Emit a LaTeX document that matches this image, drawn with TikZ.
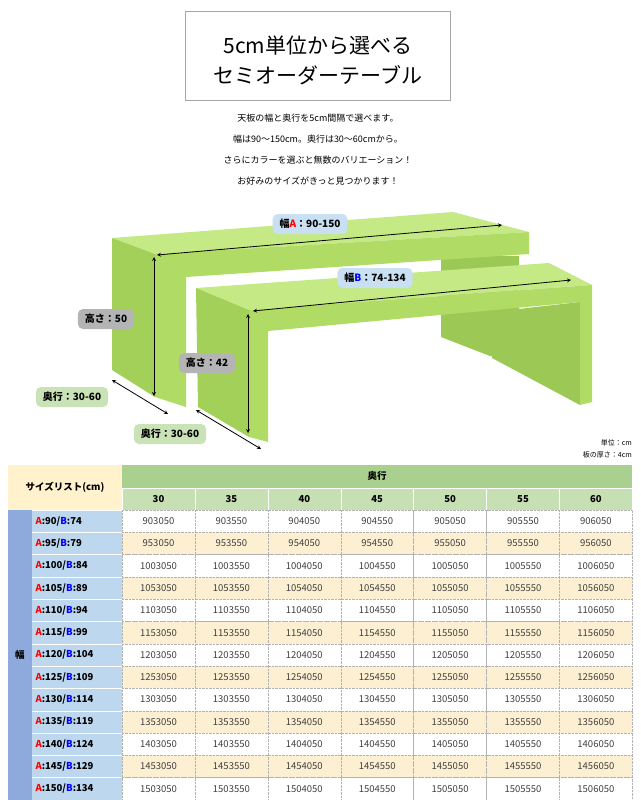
\documentclass[tikz,border=0pt]{standalone}
\usepackage{fontspec}
\setmainfont{Noto Sans CJK JP}
\definecolor{topG}{HTML}{C4E985}
\definecolor{frontG}{HTML}{B0DC66}
\definecolor{sideG}{HTML}{A2D058}
\definecolor{backG}{HTML}{9CC955}
\definecolor{labW}{HTML}{C9DFF2}
\definecolor{labH}{HTML}{B4B4B4}
\definecolor{labD}{HTML}{C9E2B6}
\definecolor{hdrG}{HTML}{A9D08E}
\definecolor{hdrL}{HTML}{C6E0B4}
\definecolor{cellY}{HTML}{FDF0D2}
\definecolor{rowB}{HTML}{BDD7EE}
\definecolor{colB}{HTML}{8EA9DB}
\definecolor{hdrY}{HTML}{FFF2CC}
\tikzset{
  tag/.style={rounded corners=5pt,inner xsep=7pt,minimum height=20pt,font=\fontsize{10}{11}\selectfont\bfseries},
  dim/.style={<->,>=stealth,thick},
  cell/.style={draw=gray!60,densely dotted,minimum width=72.9pt,minimum height=22.3pt,inner sep=0pt,font=\fontsize{9.5}{10}\selectfont,text=black!75},
}
\begin{document}
\begin{tikzpicture}[x=1pt,y=-1pt]
\useasboundingbox[fill=white] (0,0) rectangle (640,800);
% title
\draw[gray!70,line width=1pt] (185,12) rectangle (450,100);
\node (t1) at (318,46) {\fontsize{21}{23}\selectfont 5cm単位から選べる};
\node (t2) at (318,75) {\fontsize{21}{23}\selectfont セミオーダーテーブル};
\node[font=\fontsize{9}{10}\selectfont] (d1) at (318,118) {天板の幅と奥行を5cm間隔で選べます。};
\node[font=\fontsize{9}{10}\selectfont] (d2) at (318,139) {幅は90〜150cm。奥行は30〜60cmから。};
\node[font=\fontsize{9}{10}\selectfont] (d3) at (318,160) {さらにカラーを選ぶと無数のバリエーション！};
\node[font=\fontsize{9}{10}\selectfont] (d4) at (318,181) {お好みのサイズがきっと見つかります！};
% table A
\fill[backG] (441,256) -- (519,256) -- (519,360) -- (490,356) -- (441,337) -- cycle;
\fill[topG] (112,238) -- (453,212) -- (529,232) -- (155,254) -- cycle;
\fill[frontG] (155,254) -- (529,232) -- (529,254) -- (186,277) -- (186,407) -- (155,397) -- cycle;
\fill[sideG] (112,238) -- (155,254) -- (155,397) -- (112,370) -- cycle;
% table B
\fill[backG] (492,312) -- (580,302) -- (580,405) -- (492,358) -- cycle;
\fill[topG] (196,288) -- (549,263) -- (592,285) -- (249,310) -- cycle;
\fill[frontG] (249,310) -- (592,285) -- (592,402) -- (580,405) -- (580,302) -- (268,331) -- (268,442) -- (249,437) -- cycle;
\fill[sideG] (196,288) -- (249,310) -- (249,437) -- (198,407) -- cycle;
% dimensions
\coordinate (wa1) at (157,255); \coordinate (wa2) at (502,225);
\coordinate (wb1) at (253,311); \coordinate (wb2) at (571,280);
\coordinate (ha1) at (154,257); \coordinate (ha2) at (154,396);
\coordinate (hb1) at (248,314); \coordinate (hb2) at (248,433);
\coordinate (da1) at (112,380); \coordinate (da2) at (168,414);
\coordinate (db1) at (196,410); \coordinate (db2) at (261,449);
\draw[dim] (wa1) -- (wa2);
\draw[dim] (wb1) -- (wb2);
\draw[dim] (ha1) -- (ha2);
\draw[dim] (hb1) -- (hb2);
\draw[dim] (da1) -- (da2);
\draw[dim] (db1) -- (db2);
\node[tag,fill=labW] (wa) at (310,224) {幅\textcolor{red}{A}：90-150};
\node[tag,fill=labW] (wb) at (375,278) {幅\textcolor{blue}{B}：74-134};
\node[tag,fill=labH] (ha) at (106,319) {高さ：50};
\node[tag,fill=labH] (hb) at (207,363) {高さ：42};
\node[tag,fill=labD] (da) at (72,397) {奥行：30-60};
\node[tag,fill=labD] (db) at (170,434) {奥行：30-60};
\node[anchor=east,font=\fontsize{7}{8}\selectfont,inner sep=0pt] (u1) at (632,443) {単位：cm};
\node[anchor=east,font=\fontsize{7}{8}\selectfont,inner sep=0pt] (u2) at (632,455) {板の厚さ：4cm};
% size table
\fill[hdrY] (8,465) rectangle (122,510);
\fill[hdrG] (122,465) rectangle (632,488);
\fill[hdrL] (122,488) rectangle (632,510);
\fill[colB] (8,510) rectangle (32,800);
\fill[rowB] (32,510) rectangle (122,800);
\node[font=\fontsize{9.5}{10}\selectfont\bfseries] (hs) at (65,487) {サイズリスト(cm)};
\node[font=\fontsize{9.5}{10}\selectfont\bfseries] (hd) at (377,476) {奥行};
\node[font=\fontsize{9.5}{10}\selectfont\bfseries] (hw) at (20,655) {幅};
\draw[white] (122,488) -- (632,488);
\foreach \d [count=\j from 0] in {30,35,...,60} {
  \node[font=\fontsize{9.5}{10}\selectfont\bfseries] (c\j) at (158.5+72.9*\j,499) {\d};
  \draw[white] (122+72.9*\j,488) -- (122+72.9*\j,510);
}
\foreach \a [count=\i from 0] in {90,95,...,150} {
  \pgfmathtruncatemacro\b{\a-16}
  \pgfmathsetmacro\yy{521.15+22.3*\i}
  \pgfmathtruncatemacro\odd{mod(\i,2)}
  \node[anchor=west,font=\fontsize{9.5}{10}\selectfont\bfseries] (r\i) at (32,\yy) {\textcolor{red}{A}:\a/\textcolor{blue}{B}:\b};
  \draw[white] (32,510+22.3*\i) -- (122,510+22.3*\i);
  \foreach \d [count=\j from 0] in {30,35,...,60} {
    \ifnum\odd=1 \def\cc{cellY}\else\def\cc{white}\fi
    \node[cell,fill=\cc] (v\i-\j) at (158.5+72.9*\j,\yy) {\a\d50};
  }
}
\end{tikzpicture}
\end{document}
